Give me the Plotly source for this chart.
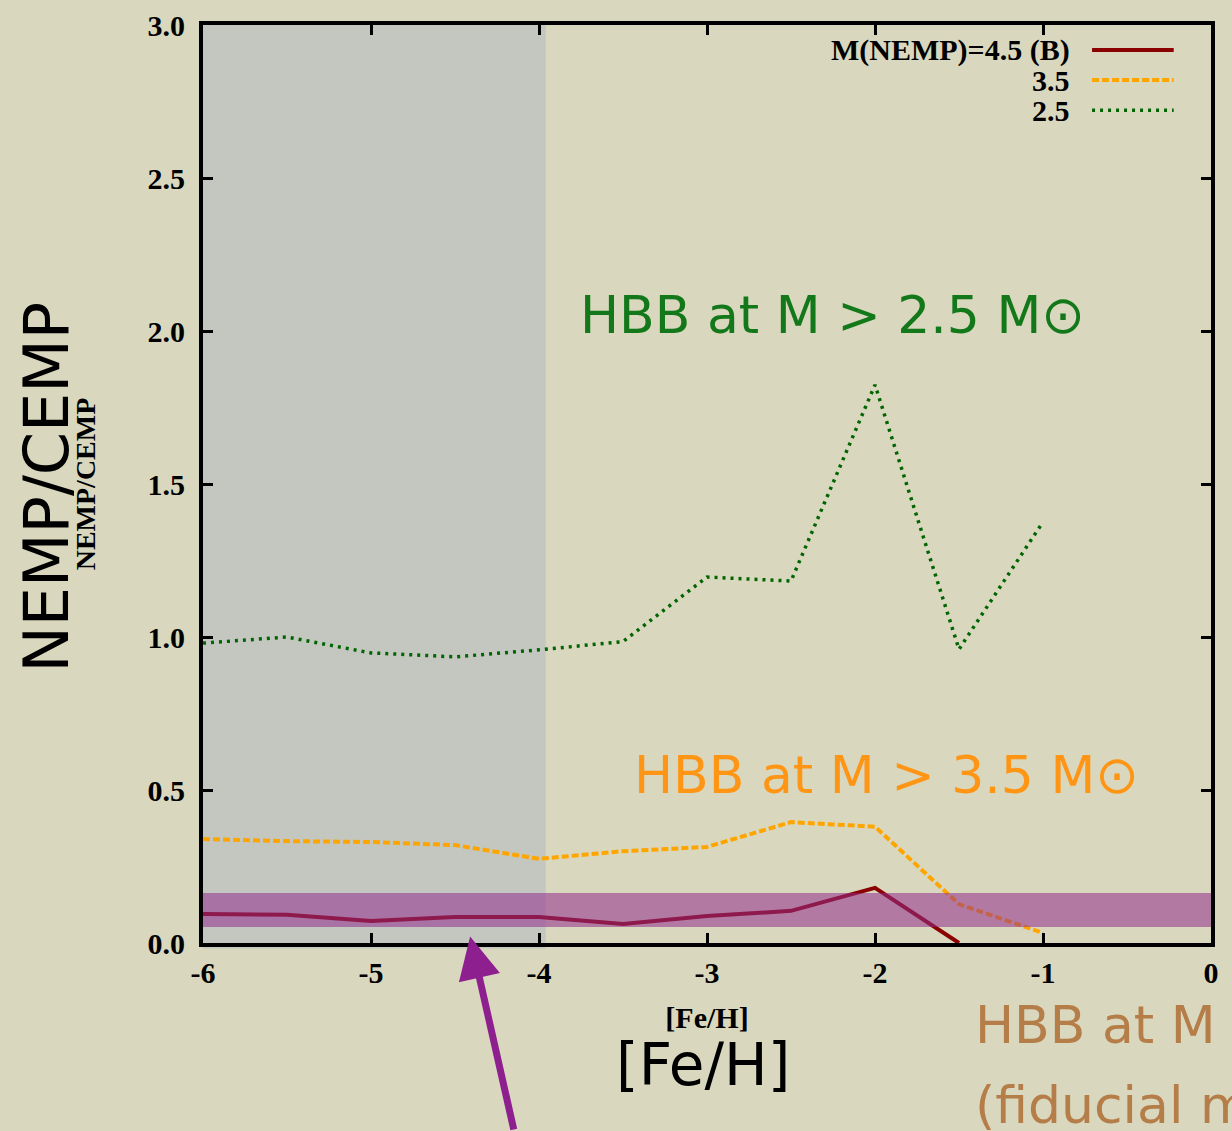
import plotly.graph_objects as go

# ---- data ----
feh = [-6, -5.5, -5, -4.5, -4, -3.5, -3, -2.5, -2, -1.5, -1]
feh_45 = [-6, -5.5, -5, -4.5, -4, -3.5, -3, -2.5, -2, -1.5]
ratio_45 = [0.095, 0.092, 0.072, 0.085, 0.085, 0.062, 0.088, 0.105, 0.180, 0.0]
ratio_35 = [0.340, 0.333, 0.330, 0.320, 0.275, 0.300, 0.314, 0.395, 0.380, 0.127, 0.033]
ratio_25 = [0.980, 1.000, 0.948, 0.935, 0.958, 0.985, 1.196, 1.183, 1.824, 0.960, 1.376]

legend_labels = ["M(NEMP)=4.5 (B)", "3.5", "2.5"]
x_ticks = [-6, -5, -4, -3, -2, -1, 0]
y_ticks = [0.0, 0.5, 1.0, 1.5, 2.0, 2.5, 3.0]
shade_feh = [-6, -3.96]
band_ratio = [0.052, 0.163]
arrow_feh = -4.41

BG = "#d9d8bf"
SERIF = "Liberation Serif"
SANS = "DejaVu Sans, sans-serif"

c45, c35, c25 = "#8b0000", "#ffa500", "#006400"
d45, d35, d25 = "solid", "7px,3px", "3px,5px"

fig = go.Figure()
fig.add_trace(go.Scatter(x=feh_45, y=ratio_45, mode="lines", name=legend_labels[0],
                         line=dict(color=c45, width=4, dash=d45), showlegend=False))
fig.add_trace(go.Scatter(x=feh, y=ratio_35, mode="lines", name=legend_labels[1],
                         line=dict(color=c35, width=4, dash=d35), showlegend=False))
fig.add_trace(go.Scatter(x=feh, y=ratio_25, mode="lines", name=legend_labels[2],
                         line=dict(color=c25, width=3.5, dash=d25), showlegend=False))

shapes = [
    # grey highlighted region
    dict(type="rect", xref="x", yref="paper", x0=shade_feh[0], x1=shade_feh[1], y0=-0.006, y1=1,
         fillcolor="#c4c7c0", line=dict(width=0), layer="below"),
    # purple band (above)
    dict(type="rect", xref="paper", yref="y", x0=0, x1=1, y0=band_ratio[0], y1=band_ratio[1],
         fillcolor="rgba(145,45,141,0.55)", line=dict(width=0), layer="above"),
]
# manual gnuplot-style key
key_y = [0.9728, 0.940, 0.907]
key_colors = [c45, c35, c25]
key_dash = [d45, d35, d25]
key_w = [4, 4, 3.5]
annotations = []
for lab, ky, kc, kd, kw in zip(legend_labels, key_y, key_colors, key_dash, key_w):
    shapes.append(dict(type="line", xref="paper", yref="paper", x0=0.882, x1=0.963, y0=ky, y1=ky,
                       line=dict(color=kc, width=kw, dash=kd)))
    annotations.append(dict(xref="paper", yref="paper", x=0.862, y=ky, text=lab, showarrow=False,
                            xanchor="right", yanchor="middle",
                            font=dict(family=SERIF, size=30, color="black", weight="bold")))

# slide overlay texts
annotations += [
    dict(xref="paper", yref="paper", x=-0.155, y=0.497, text="NEMP/CEMP", textangle=-90,
         showarrow=False, xanchor="center", yanchor="middle",
         font=dict(family=SANS, size=62, color="black")),
    dict(xref="paper", yref="paper", x=0.372, y=0.684, text="HBB at M > 2.5 M⊙",
         showarrow=False, xanchor="left", yanchor="middle",
         font=dict(family=SANS, size=52, color="#12781a")),
    dict(xref="paper", yref="paper", x=0.4256, y=0.183, text="HBB at M > 3.5 M⊙",
         showarrow=False, xanchor="left", yanchor="middle",
         font=dict(family=SANS, size=52, color="#ff9515")),
    dict(xref="paper", yref="paper", x=0.764, y=-0.0893, text="HBB at M > 4.5 M⊙",
         showarrow=False, xanchor="left", yanchor="middle",
         font=dict(family=SANS, size=52, color="#b57d48")),
    dict(xref="paper", yref="paper", x=0.764, y=-0.176, text="(fiducial model)",
         showarrow=False, xanchor="left", yanchor="middle",
         font=dict(family=SANS, size=52, color="#b57d48")),
    dict(xref="paper", yref="paper", x=0.496, y=-0.133, text="[Fe/H]",
         showarrow=False, xanchor="center", yanchor="middle",
         font=dict(family=SANS, size=58, color="black")),
    # purple arrow pointing at the axis
    dict(xref="x", yref="paper", x=arrow_feh, y=0.007, ax=44, ay=198, text="", showarrow=True,
         arrowhead=2, arrowsize=1.2, arrowwidth=7, arrowcolor="#8e1f8f"),
]

axis_common = dict(showline=True, linecolor="black", linewidth=4, mirror="allticks",
                   ticks="inside", ticklen=10, tickwidth=3, tickcolor="black",
                   showgrid=False, zeroline=False,
                   tickfont=dict(family=SERIF, size=30, color="black", weight="bold"))

fig.update_layout(
    width=1232, height=1131,
    margin=dict(l=203, r=21, t=25, b=188, autoexpand=False),
    paper_bgcolor=BG, plot_bgcolor=BG,
    xaxis=dict(range=[-6, 0], tickvals=x_ticks, ticktext=[str(v) for v in x_ticks],
               title=dict(text="[Fe/H]", standoff=20,
                          font=dict(family=SERIF, size=30, color="black", weight="bold")),
               **axis_common),
    yaxis=dict(range=[0, 3], tickvals=y_ticks, ticktext=[f"{v:.1f}" for v in y_ticks],
               ticklabelstandoff=8,
               title=dict(text="NEMP/CEMP", standoff=45,
                          font=dict(family=SERIF, size=28, color="black", weight="bold")),
               **axis_common),
    shapes=shapes, annotations=annotations,
)

fig.write_html("out.html")
